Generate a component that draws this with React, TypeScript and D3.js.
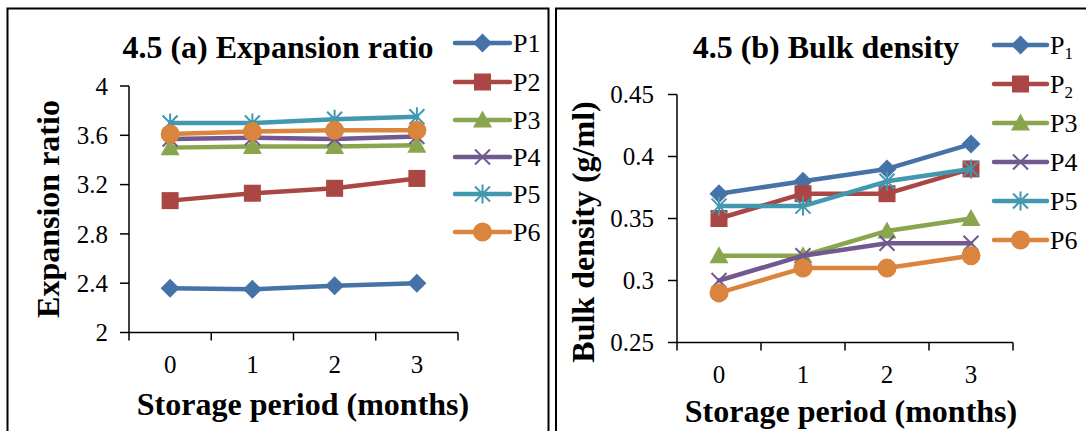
import React from 'react';
import * as d3 from 'd3';

// ---------- data ----------
const categories = ['0', '1', '2', '3'];

const seriesNames = ['P1', 'P2', 'P3', 'P4', 'P5', 'P6'];
const seriesColors = ['#4572A7', '#AA4643', '#89A54E', '#71588F', '#4198AF', '#DB843D'];
const seriesMarkers = ['diamond', 'square', 'triangle', 'x', 'star', 'circle'];

// (a) Expansion ratio
const expP1 = [2.36, 2.35, 2.38, 2.40];
const expP2 = [3.07, 3.13, 3.17, 3.25];
const expP3 = [3.50, 3.51, 3.51, 3.52];
const expP4 = [3.57, 3.58, 3.57, 3.59];
const expP5 = [3.70, 3.70, 3.73, 3.75];
const expP6 = [3.61, 3.63, 3.64, 3.64];
const expTicks = [2, 2.4, 2.8, 3.2, 3.6, 4];
const expTickLabels = ['2', '2.4', '2.8', '3.2', '3.6', '4'];

// (b) Bulk density
const bdP1 = [0.37, 0.38, 0.39, 0.41];
const bdP2 = [0.35, 0.37, 0.37, 0.39];
const bdP3 = [0.32, 0.32, 0.34, 0.35];
const bdP4 = [0.30, 0.32, 0.33, 0.33];
const bdP5 = [0.36, 0.36, 0.38, 0.39];
const bdP6 = [0.29, 0.31, 0.31, 0.32];
const bdTicks = [0.25, 0.3, 0.35, 0.4, 0.45];
const bdTickLabels = ['0.25', '0.3', '0.35', '0.4', '0.45'];

const legendA = [
  { main: 'P', sub: '', rest: '1' },
  { main: 'P', sub: '', rest: '2' },
  { main: 'P', sub: '', rest: '3' },
  { main: 'P', sub: '', rest: '4' },
  { main: 'P', sub: '', rest: '5' },
  { main: 'P', sub: '', rest: '6' },
];
const legendB = [
  { main: 'P', sub: '1', rest: '' },
  { main: 'P', sub: '2', rest: '' },
  { main: 'P', sub: '', rest: '3' },
  { main: 'P', sub: '', rest: '4' },
  { main: 'P', sub: '', rest: '5' },
  { main: 'P', sub: '', rest: '6' },
];

const FONT = "'Liberation Serif','Times New Roman',serif";

function Marker({ type, x, y, color }: { type: string; x: number; y: number; color: string }) {
  const t = `translate(${x},${y})`;
  if (type === 'diamond') {
    const r = 9.5;
    return <path transform={t} d={`M0,${-r}L${r},0L0,${r}L${-r},0Z`} fill={color} />;
  }
  if (type === 'square') {
    const h = 8.5;
    return <rect transform={t} x={-h} y={-h} width={2 * h} height={2 * h} fill={color} />;
  }
  if (type === 'triangle') {
    return <path transform={t} d="M0,-9.5L9.5,7.5L-9.5,7.5Z" fill={color} />;
  }
  if (type === 'circle') {
    return <circle transform={t} r={9.5} fill={color} />;
  }
  if (type === 'x') {
    const h = 7.5;
    return (
      <path transform={t} d={`M${-h},${-h}L${h},${h}M${-h},${h}L${h},${-h}`} stroke={color} strokeWidth={2} fill="none" />
    );
  }
  // star / asterisk
  const h = 7.5;
  const v = 9.5;
  return (
    <path
      transform={t}
      d={`M${-h},${-h}L${h},${h}M${-h},${h}L${h},${-h}M0,${-v}L0,${v}`}
      stroke={color}
      strokeWidth={2}
      fill="none"
    />
  );
}

type PanelProps = {
  series: number[][];
  yDomain: [number, number];
  yTicks: number[];
  yTickLabels: string[];
  x0: number;
  x1: number;
  yTop: number;
  yBottom: number;
  labelRight: number;
  xLabelBaseline: number;
  title: string;
  titleX: number;
  titleY: number;
  xTitleX: number;
  xTitleY: number;
  yTitle: string;
  yTitleX: number;
  yTitleY: number;
  legend: { main: string; sub: string; rest: string }[];
  legX0: number;
  legX1: number;
  legRows: number[];
};

function Panel(p: PanelProps) {
  const xBand = d3.scaleBand<string>().domain(categories).range([p.x0, p.x1]).paddingInner(0).paddingOuter(0);
  const xc = (c: string) => (xBand(c) as number) + xBand.bandwidth() / 2;
  const y = d3.scaleLinear().domain(p.yDomain).range([p.yBottom, p.yTop]);
  const line = d3
    .line<number>()
    .x((_, i) => xc(categories[i]))
    .y((d) => y(d));
  const boundaries = categories.map((c) => xBand(c) as number).concat([p.x1]);
  const legMid = (p.legX0 + p.legX1) / 2;
  return (
    <g fontFamily={FONT} fill="#000">
      {/* axes */}
      <line x1={p.x0} x2={p.x0} y1={p.yTop} y2={p.yBottom} stroke="#000" strokeWidth={1.5} />
      <line x1={p.x0} x2={p.x1} y1={p.yBottom} y2={p.yBottom} stroke="#000" strokeWidth={1.5} />
      {p.yTicks.map((t, i) => (
        <g key={'yt' + i}>
          <line x1={p.x0 - 9} x2={p.x0} y1={y(t)} y2={y(t)} stroke="#000" strokeWidth={1.5} />
          <text x={p.labelRight} y={y(t)} dy="0.35em" textAnchor="end" fontSize={25}>
            {p.yTickLabels[i]}
          </text>
        </g>
      ))}
      {boundaries.map((b, i) => (
        <line key={'xt' + i} x1={b} x2={b} y1={p.yBottom} y2={p.yBottom + 8} stroke="#000" strokeWidth={1.5} />
      ))}
      {categories.map((c) => (
        <text key={'xl' + c} x={xc(c)} y={p.xLabelBaseline} textAnchor="middle" fontSize={25}>
          {c}
        </text>
      ))}
      {/* series */}
      {p.series.map((vals, si) => (
        <g key={'s' + si}>
          <path d={line(vals) as string} fill="none" stroke={seriesColors[si]} strokeWidth={4.5} strokeLinejoin="round" strokeLinecap="round" />
          {vals.map((v, i) => (
            <Marker key={i} type={seriesMarkers[si]} x={xc(categories[i])} y={y(v)} color={seriesColors[si]} />
          ))}
        </g>
      ))}
      {/* titles */}
      <text x={p.titleX} y={p.titleY} textAnchor="middle" fontSize={32} fontWeight="bold">
        {p.title}
      </text>
      <text x={p.xTitleX} y={p.xTitleY} textAnchor="middle" fontSize={32} fontWeight="bold">
        Storage period (months)
      </text>
      <text
        transform={`translate(${p.yTitleX},${p.yTitleY}) rotate(-90)`}
        textAnchor="middle"
        fontSize={32}
        fontWeight="bold"
      >
        {p.yTitle}
      </text>
      {/* legend */}
      {p.legend.map((l, i) => (
        <g key={'lg' + i}>
          <line x1={p.legX0} x2={p.legX1} y1={p.legRows[i]} y2={p.legRows[i]} stroke={seriesColors[i]} strokeWidth={4.5} strokeLinecap="round" />
          <Marker type={seriesMarkers[i]} x={legMid} y={p.legRows[i]} color={seriesColors[i]} />
          <text x={p.legX1 + 3} y={p.legRows[i]} dy="0.35em" fontSize={26}>
            {l.main}
            {l.sub ? (
              <tspan fontSize={17} dy="0.3em">
                {l.sub}
              </tspan>
            ) : null}
            {l.rest}
          </text>
        </g>
      ))}
    </g>
  );
}

export default function App() {
  return (
    <svg
      width={1086}
      height={431}
      style={{ position: 'absolute', left: 0, top: 0, background: '#fff' }}
    >
      <rect x={0} y={0} width={1086} height={431} fill="#fff" />
      <rect x={7.5} y={8.5} width={541} height={450} fill="none" stroke="#000" strokeWidth={2} />
      <rect x={556} y={8.5} width={560} height={450} fill="none" stroke="#000" strokeWidth={2} />
      <Panel
        series={[expP1, expP2, expP3, expP4, expP5, expP6]}
        yDomain={[2, 4]}
        yTicks={expTicks}
        yTickLabels={expTickLabels}
        x0={129}
        x1={458}
        yTop={86}
        yBottom={332.5}
        labelRight={108}
        xLabelBaseline={373}
        title="4.5 (a) Expansion ratio"
        titleX={278}
        titleY={58}
        xTitleX={303}
        xTitleY={415}
        yTitle="Expansion ratio"
        yTitleX={59}
        yTitleY={209}
        legend={legendA}
        legX0={455}
        legX1={510}
        legRows={[43, 82, 120, 157, 194, 232]}
      />
      <Panel
        series={[bdP1, bdP2, bdP3, bdP4, bdP5, bdP6]}
        yDomain={[0.25, 0.45]}
        yTicks={bdTicks}
        yTickLabels={bdTickLabels}
        x0={677}
        x1={1013}
        yTop={94.5}
        yBottom={342.5}
        labelRight={654}
        xLabelBaseline={383}
        title="4.5 (b) Bulk density"
        titleX={826}
        titleY={58}
        xTitleX={851}
        xTitleY={422}
        yTitle="Bulk density (g/ml)"
        yTitleX={594}
        yTitleY={232}
        legend={legendB}
        legX0={994}
        legX1={1047}
        legRows={[45, 84, 123, 162, 201, 240]}
      />
    </svg>
  );
}
